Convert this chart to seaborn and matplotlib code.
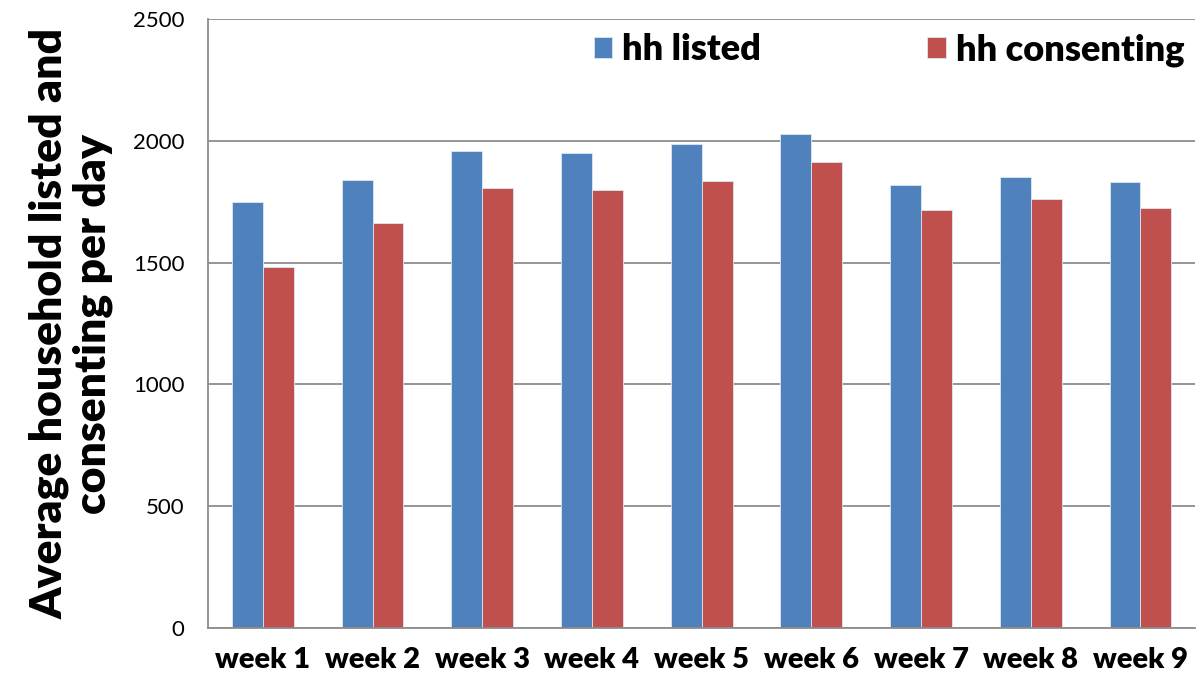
import seaborn as sns
import matplotlib.pyplot as plt
import pandas as pd

weeks = ['week 1', 'week 2', 'week 3', 'week 4', 'week 5',
         'week 6', 'week 7', 'week 8', 'week 9']
hh_listed = [1750, 1838, 1960, 1948, 1986, 2026, 1817, 1852, 1831]
hh_consenting = [1481, 1662, 1806, 1800, 1833, 1913, 1714, 1760, 1725]

df = pd.DataFrame({
    'week': weeks * 2,
    'value': hh_listed + hh_consenting,
    'series': ['hh listed'] * len(weeks) + ['hh consenting'] * len(weeks),
})

sns.set_style('white')
plt.rcParams['font.family'] = ['Lato', 'DejaVu Sans']
plt.rcParams['text.color'] = 'black'
plt.rcParams['axes.labelcolor'] = 'black'
plt.rcParams['xtick.labelcolor'] = 'black'
plt.rcParams['ytick.labelcolor'] = 'black'

fig = plt.figure(figsize=(11.96, 6.81), dpi=100)
ax = fig.add_axes([0.1739, 0.0778, 0.8255, 0.8943])

sns.barplot(data=df, x='week', y='value', hue='series',
            palette=['#4F81BD', '#C0504D'], saturation=1, width=0.5636, gap=0,
            edgecolor='#dde6f3', linewidth=0.6, ax=ax)

ax.set_ylim(0, 2500)
ax.set_xlim(-0.5, len(weeks) - 0.5)
ax.set_yticks([0, 500, 1000, 1500, 2000, 2500])
ax.yaxis.grid(True, color='#8c8c8c', linewidth=1.3)
ax.set_axisbelow(True)

for s in ['top', 'right']:
    ax.spines[s].set_visible(False)
for s in ['left', 'bottom']:
    ax.spines[s].set_color('#8c8c8c')
    ax.spines[s].set_linewidth(1.3)

ax.set_xticks([i - 0.5 for i in range(len(weeks) + 1)], minor=True)
ax.tick_params(axis='x', which='major', length=0, labelsize=21, pad=14)
ax.tick_params(axis='x', which='minor', length=6, color='#8c8c8c', width=1.3, direction='out')
ax.tick_params(axis='y', length=9, color='#8c8c8c', width=1.3, labelsize=16, pad=8)
for lbl in ax.get_xticklabels():
    lbl.set_fontweight('heavy')

ax.set_xlabel('')
ax.set_ylabel('Average household listed and\nconsenting per day',
              fontsize=32, fontweight='heavy', labelpad=14, linespacing=1.1)

ax.legend(loc='center', bbox_to_anchor=(0.69, 0.949), ncol=2, frameon=False,
          prop={'size': 26, 'weight': 'heavy'}, handlelength=0.5, handleheight=0.5,
          handletextpad=0.3, columnspacing=4.6)

fig.savefig('out.png', dpi=100)
